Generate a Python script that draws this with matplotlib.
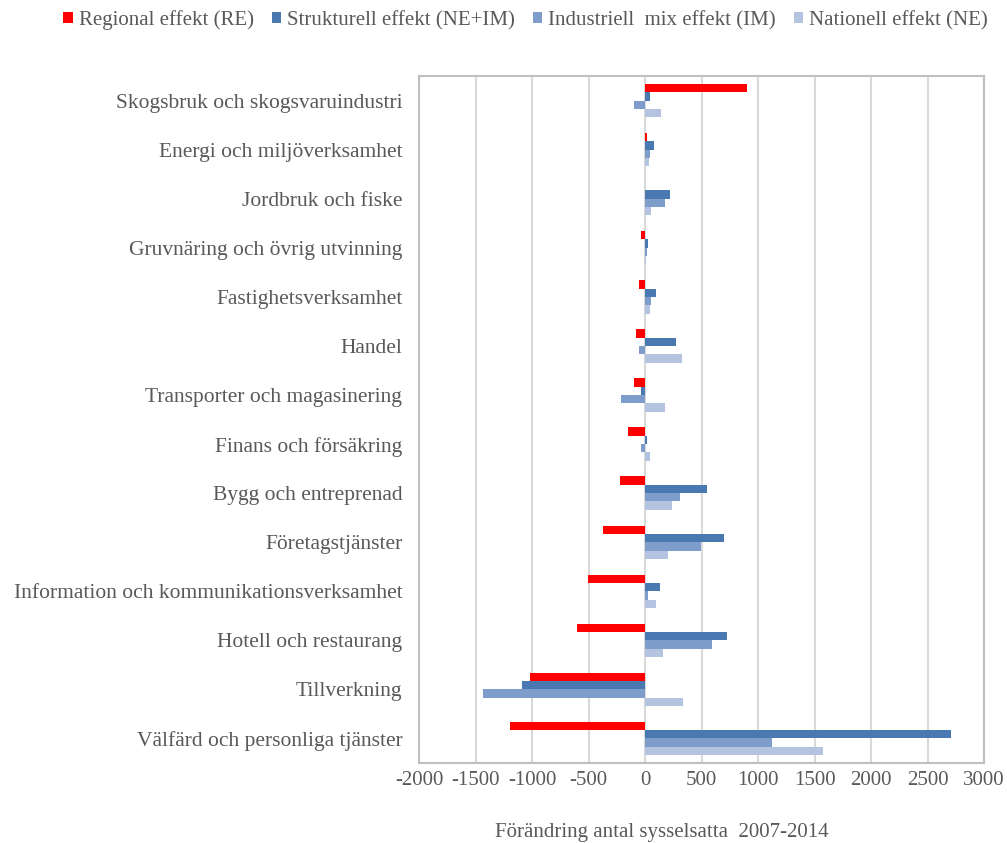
import matplotlib
matplotlib.use("Agg")
import matplotlib.pyplot as plt
import numpy as np

categories = [
    "Skogsbruk och skogsvaruindustri",
    "Energi och miljöverksamhet",
    "Jordbruk och fiske",
    "Gruvnäring och övrig utvinning",
    "Fastighetsverksamhet",
    "Handel",
    "Transporter och magasinering",
    "Finans och försäkring",
    "Bygg och entreprenad",
    "Företagstjänster",
    "Information och kommunikationsverksamhet",
    "Hotell och restaurang",
    "Tillverkning",
    "Välfärd och personliga tjänster",
]
regional = [906, 15, 0, -38, -56, -83, -100, -147, -221, -375, -508, -599, -1019, -1195]
strukturell = [44, 83, 218, 25, 100, 274, -35, 20, 549, 696, 129, 728, -1093, 2705]
industriell = [-100, 44, 174, 15, 53, -56, -212, -35, 310, 496, 27, 589, -1435, 1127]
nationell = [145, 35, 53, 10, 44, 330, 174, 44, 236, 200, 95, 159, 335, 1578]

series_labels = ["Regional effekt (RE)", "Strukturell effekt (NE+IM)",
                 "Industriell  mix effekt (IM)", "Nationell effekt (NE)"]
colors = ["#FF0000", "#4A78B0", "#7E9DCB", "#B4C4E0"]
xticks = [-2000, -1500, -1000, -500, 0, 500, 1000, 1500, 2000, 2500, 3000]
xlabel = "Förändring antal sysselsatta  2007-2014"

plt.rcParams['font.family'] = ['Liberation Serif', 'DejaVu Serif']
txt = "#595959"

fig = plt.figure(figsize=(10.07, 8.43), dpi=100)
ax = fig.add_axes([0.4161, 0.0949, 0.9772 - 0.4161, 0.9098 - 0.0949])

y = np.arange(len(categories))
h = 0.17
data = [regional, strukturell, industriell, nationell]
handles = []
for i, (vals, c, lab) in enumerate(zip(data, colors, series_labels)):
    b = ax.barh(y + (i - 1.5) * h, vals, height=h, color=c, label=lab, zorder=3)
    handles.append(b)

ax.set_ylim(len(categories) - 0.5, -0.5)
ax.set_xlim(-2000, 3000)
ax.set_xticks(xticks)
ax.set_xticklabels([str(t) for t in xticks])
ax.set_yticks(y)
ax.set_yticklabels(categories)
ax.tick_params(axis='x', length=0, labelsize=15, colors=txt, pad=6)
ax.tick_params(axis='y', length=0, labelsize=15.5, colors=txt, pad=12)
ax.grid(axis='x', color="#D9D9D9", linewidth=1.5, zorder=0)
for s in ax.spines.values():
    s.set_color("#BFBFBF")
    s.set_linewidth(1.5)
ax.set_xlabel(xlabel, fontsize=15, color=txt)
ax.xaxis.set_label_coords(0.43, -0.088)

leg = fig.legend(handles=handles, labels=series_labels, loc='center',
                 bbox_to_anchor=(0.522, 0.976), ncol=4, frameon=False,
                 fontsize=15, handlelength=0.45, handleheight=0.45,
                 handletextpad=0.3, columnspacing=0.85, labelcolor=txt)

fig.savefig("out.png", dpi=100)
